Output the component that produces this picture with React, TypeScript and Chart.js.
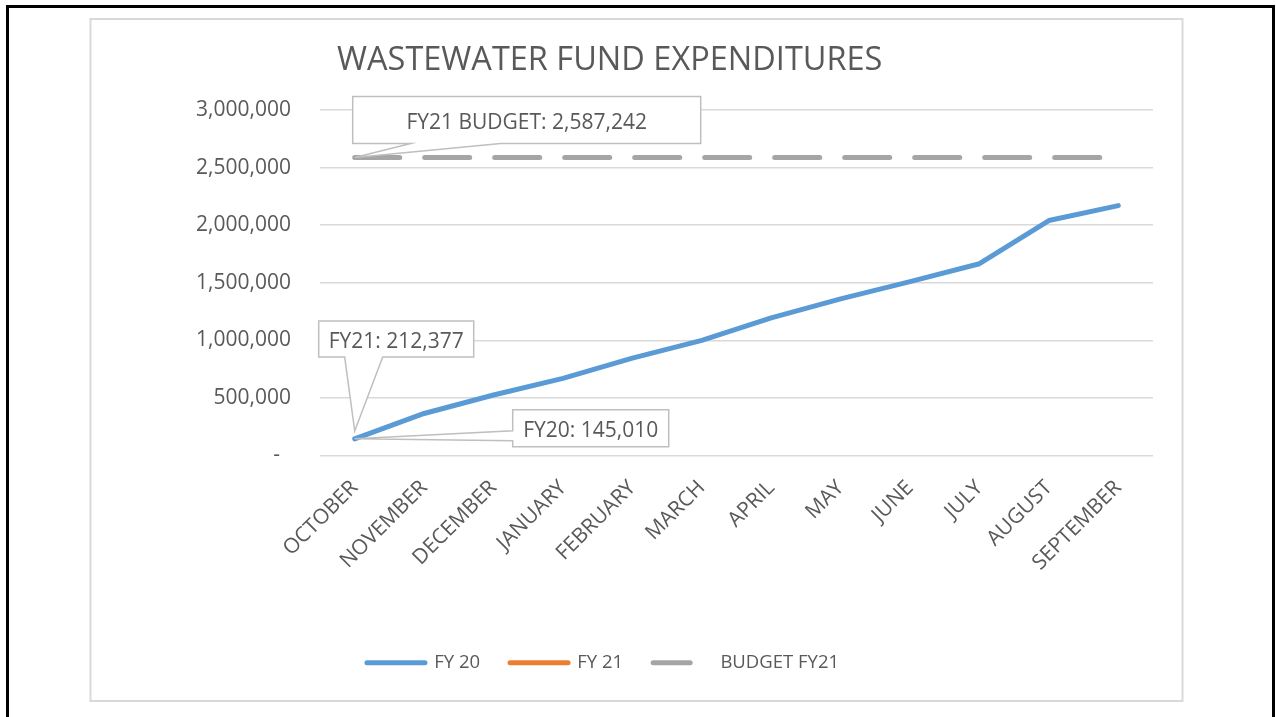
import React, { useEffect, useRef } from 'react';
import { Chart, registerables } from 'chart.js';

Chart.register(...registerables);

// ---- data ----
const months = [
  'OCTOBER', 'NOVEMBER', 'DECEMBER', 'JANUARY', 'FEBRUARY', 'MARCH',
  'APRIL', 'MAY', 'JUNE', 'JULY', 'AUGUST', 'SEPTEMBER',
];
const fy20 = [145010, 365000, 525000, 670000, 845000, 1000000, 1195000, 1360000, 1510000, 1665000, 2040000, 2170000];
const fy21 = [212377, null, null, null, null, null, null, null, null, null, null, null];
const budgetFy21 = [2587242, 2587242, 2587242, 2587242, 2587242, 2587242, 2587242, 2587242, 2587242, 2587242, 2587242, 2587242];
const seriesNames = ['FY 20', 'FY 21', 'BUDGET FY21'];
const yMin = 0;
const yMax = 3000000;
const yStep = 500000;
const titleText = 'WASTEWATER FUND EXPENDITURES';

const FONT = "'Open Sans', sans-serif";
const TEXT = '#595959';
const BLUE = '#5B9BD5';
const ORANGE = '#ED7D31';
const GRAY = '#A5A5A5';

const fmt = (v: number) => (v === 0 ? '-  ' : v.toLocaleString('en-US'));

type Box = { x: number; y: number; w: number; h: number };

function drawCallout(
  ctx: CanvasRenderingContext2D,
  box: Box,
  tip: { x: number; y: number },
  base: [number, number],
  side: 'bottom' | 'left',
  text: string,
) {
  const { x, y, w, h } = box;
  ctx.save();
  ctx.beginPath();
  if (side === 'bottom') {
    ctx.moveTo(x, y);
    ctx.lineTo(x + w, y);
    ctx.lineTo(x + w, y + h);
    ctx.lineTo(base[1], y + h);
    ctx.lineTo(tip.x, tip.y);
    ctx.lineTo(base[0], y + h);
    ctx.lineTo(x, y + h);
    ctx.closePath();
  } else {
    ctx.moveTo(x, y);
    ctx.lineTo(x + w, y);
    ctx.lineTo(x + w, y + h);
    ctx.lineTo(x, y + h);
    ctx.lineTo(x, base[1]);
    ctx.lineTo(tip.x, tip.y);
    ctx.lineTo(x, base[0]);
    ctx.closePath();
  }
  ctx.fillStyle = '#ffffff';
  ctx.fill();
  ctx.strokeStyle = '#bfbfbf';
  ctx.lineWidth = 1.5;
  ctx.lineJoin = 'miter';
  ctx.stroke();
  ctx.fillStyle = TEXT;
  ctx.font = `21px ${FONT}`;
  ctx.textAlign = 'center';
  ctx.textBaseline = 'alphabetic';
  ctx.fillText(text, x + w / 2, y + h / 2 + 9);
  ctx.restore();
}

const framePlugin = {
  id: 'frame',
  beforeDraw(chart: any) {
    const ctx: CanvasRenderingContext2D = chart.ctx;
    const W = chart.width;
    const H = chart.height;
    ctx.save();
    ctx.fillStyle = '#ffffff';
    ctx.fillRect(0, 0, W, H);
    // outer black frame
    ctx.strokeStyle = '#000000';
    ctx.lineWidth = 3;
    ctx.strokeRect(7.5, 6.5, W - 10, H + 20);
    // inner chart border
    ctx.strokeStyle = '#d9d9d9';
    ctx.lineWidth = 2;
    ctx.strokeRect(90.5, 19, 1092, 682);
    // title
    ctx.fillStyle = TEXT;
    ctx.font = `32.5px ${FONT}`;
    ctx.textAlign = 'left';
    ctx.textBaseline = 'alphabetic';
    ctx.fillText(titleText, chart.chartArea.left + 17, 70);
    ctx.restore();
  },
};

const calloutPlugin = {
  id: 'callouts',
  afterDatasetsDraw(chart: any) {
    const ctx: CanvasRenderingContext2D = chart.ctx;
    const xs = chart.scales.x;
    const ys = chart.scales.y;
    const x0 = xs.getPixelForValue(0);
    // budget callout
    const bTip = { x: x0, y: ys.getPixelForValue(budgetFy21[0]) };
    drawCallout(
      ctx,
      { x: bTip.x - 2, y: bTip.y - 61, w: 348, h: 47 },
      bTip,
      [bTip.x + 56, bTip.x + 146],
      'bottom',
      `FY21 BUDGET: ${budgetFy21[0].toLocaleString('en-US')}`,
    );
    // FY21 callout
    const f21Tip = { x: x0, y: ys.getPixelForValue(fy21[0] as number) };
    drawCallout(
      ctx,
      { x: f21Tip.x - 36, y: f21Tip.y - 110, w: 155, h: 36 },
      f21Tip,
      [f21Tip.x - 10, f21Tip.x + 28],
      'bottom',
      `FY21: ${(fy21[0] as number).toLocaleString('en-US')}`,
    );
    // FY20 callout
    const f20Tip = { x: x0, y: ys.getPixelForValue(fy20[0]) };
    drawCallout(
      ctx,
      { x: f20Tip.x + 158, y: f20Tip.y - 29, w: 156, h: 37 },
      f20Tip,
      [f20Tip.y - 8, f20Tip.y + 2],
      'left',
      `FY20: ${fy20[0].toLocaleString('en-US')}`,
    );
  },
};

export default function App() {
  const canvasRef = useRef<HTMLCanvasElement | null>(null);

  useEffect(() => {
    if (!canvasRef.current) return;
    const chart = new Chart(canvasRef.current, {
      type: 'line',
      data: {
        labels: months,
        datasets: [
          {
            label: seriesNames[0],
            data: fy20,
            borderColor: BLUE,
            backgroundColor: BLUE,
            borderWidth: 5,
            pointRadius: 0,
            tension: 0,
            borderCapStyle: 'round',
            borderJoinStyle: 'round',
            order: 1,
          },
          {
            label: seriesNames[1],
            data: fy21,
            borderColor: ORANGE,
            backgroundColor: ORANGE,
            borderWidth: 5,
            pointRadius: 0,
            tension: 0,
            borderCapStyle: 'butt',
            order: 2,
          },
          {
            label: seriesNames[2],
            data: budgetFy21,
            borderColor: GRAY,
            backgroundColor: GRAY,
            borderWidth: 5,
            borderDash: [45, 25],
            pointRadius: 0,
            tension: 0,
            borderCapStyle: 'round',
            order: 3,
          },
        ],
      },
      options: {
        responsive: false,
        animation: false,
        events: [],
        font: { family: FONT },
        layout: { padding: { left: 53, right: 123, top: 110, bottom: 35 } },
        scales: {
          x: {
            offset: true,
            grid: { display: false, drawTicks: false },
            border: { display: false },
            ticks: {
              autoSkip: false,
              maxRotation: 45,
              minRotation: 45,
              padding: 20,
              color: TEXT,
              font: { family: FONT, size: 21 },
            },
            afterFit: (scale: any) => {
              scale.height = 168;
            },
          },
          y: {
            min: yMin,
            max: yMax,
            grid: { color: '#d9d9d9', lineWidth: 1.5, drawTicks: false },
            border: { display: false },
            ticks: {
              stepSize: yStep,
              padding: 29,
              color: TEXT,
              font: { family: FONT, size: 21 },
              callback: (v: any) => fmt(Number(v)),
            },
            afterFit: (scale: any) => {
              scale.width = 267;
            },
          },
        },
        plugins: {
          title: { display: false },
          tooltip: { enabled: false },
          legend: {
            display: true,
            position: 'bottom',
            align: 'center',
            labels: {
              usePointStyle: true,
              pointStyleWidth: 58,
              padding: 30,
              color: TEXT,
              font: { family: FONT, size: 18.5 },
              generateLabels: (ch: any) =>
                ch.data.datasets.map((ds: any, i: number) => ({
                  text: ds.label,
                  fillStyle: ds.borderColor,
                  strokeStyle: ds.borderColor,
                  fontColor: TEXT,
                  lineWidth: 5,
                  lineCap: 'round',
                  lineDash: i === 2 ? [37, 40] : [],
                  pointStyle: 'line',
                  hidden: false,
                  datasetIndex: i,
                })),
            },
          },
        },
      },
      plugins: [framePlugin, calloutPlugin],
    } as any);
    return () => chart.destroy();
  }, []);

  return (
    <div style={{ position: 'fixed', left: 0, top: 0, width: 1276, height: 717, background: '#fff' }}>
      <canvas ref={canvasRef} width={1276} height={717} style={{ display: 'block' }} />
    </div>
  );
}
